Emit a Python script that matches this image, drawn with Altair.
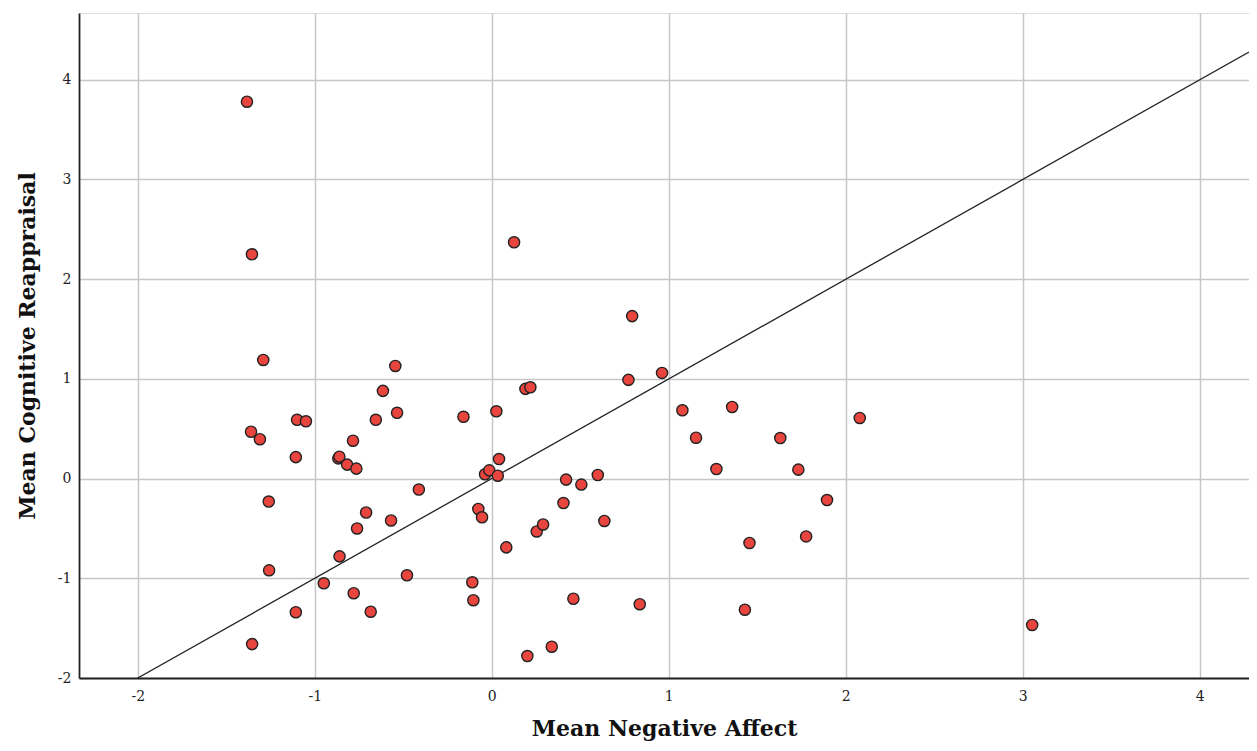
import altair as alt
import pandas as pd

neg_affect = [
    -1.383, -1.355, -1.291, -1.36, -1.31, -1.10, -1.05, -1.107, -1.26, -1.258,
    -1.107, -1.354, -0.867, -0.861, -0.817, -0.765, -0.784, -0.655, -0.615, -0.545,
    -0.535, -0.71, -0.761, -0.569, -0.86, -0.949, -0.78, -0.684, -0.412, -0.479,
    -0.16, 0.026, 0.041, -0.038, -0.014, 0.034, -0.076, -0.055, 0.082, -0.11,
    -0.104, 0.126, 0.793, 0.772, 0.962, 0.19, 0.218, 0.254, 0.29, 0.405,
    0.42, 0.506, 0.599, 0.636, 0.461, 0.836, 0.339, 0.201, 1.077, 1.358,
    1.154, 1.63, 1.269, 1.732, 2.079, 1.894, 1.776, 1.456, 1.43, 3.053,
]
cog_reapp = [
    3.78, 2.25, 1.19, 0.47, 0.395, 0.59, 0.575, 0.215, -0.23, -0.92,
    -1.34, -1.66, 0.203, 0.22, 0.14, 0.10, 0.38, 0.59, 0.88, 1.13,
    0.66, -0.34, -0.50, -0.42, -0.78, -1.05, -1.15, -1.335, -0.11, -0.97,
    0.62, 0.675, 0.196, 0.043, 0.083, 0.029, -0.305, -0.388, -0.69, -1.04,
    -1.22, 2.37, 1.63, 0.99, 1.06, 0.90, 0.916, -0.53, -0.46, -0.245,
    -0.01, -0.06, 0.036, -0.425, -1.205, -1.26, -1.686, -1.78, 0.685, 0.718,
    0.41, 0.407, 0.096, 0.09, 0.608, -0.215, -0.58, -0.646, -1.315, -1.468,
]
tick_vals = [-2, -1, 0, 1, 2, 3, 4]
x_domain = [-2.332, 4.278]
y_domain = [-2.0, 4.67]
ref_line = [-2.0, 4.278]

pts = pd.DataFrame({"x": neg_affect, "y": cog_reapp})
line_df = pd.DataFrame({"x": ref_line, "y": ref_line})

FONT = "DejaVu Serif"

xscale = alt.Scale(domain=x_domain, nice=False, zero=False)
yscale = alt.Scale(domain=y_domain, nice=False, zero=False)

xaxis = alt.Axis(
    title="Mean Negative Affect", values=tick_vals, labelExpr="'' + datum.value",
    grid=True, gridColor="#c6c6c6", gridWidth=1.5,
    ticks=False, domain=True, domainColor="#222", domainWidth=1.8,
    labelFont=FONT, labelFontSize=14, labelColor="#222", labelPadding=11,
    titleFont=FONT, titleFontSize=22, titleFontWeight="bold", titleColor="#111",
    titlePadding=15,
)
yaxis = alt.Axis(
    title="Mean Cognitive Reappraisal", values=tick_vals, labelExpr="'' + datum.value",
    grid=True, gridColor="#c6c6c6", gridWidth=1.5,
    ticks=False, domain=True, domainColor="#222", domainWidth=1.8,
    labelFont=FONT, labelFontSize=14, labelColor="#222", labelPadding=8,
    titleFont=FONT, titleFontSize=22, titleFontWeight="bold", titleColor="#111",
    titlePadding=18,
)

line = alt.Chart(line_df).mark_line(color="#222", strokeWidth=1.3, clip=True).encode(
    x=alt.X("x:Q", scale=xscale, axis=xaxis),
    y=alt.Y("y:Q", scale=yscale, axis=yaxis),
)

points = alt.Chart(pts).mark_point(
    shape="circle", filled=True, fill="#e8453f", stroke="#222",
    strokeWidth=1.4, size=125, opacity=1, clip=True,
).encode(
    x=alt.X("x:Q", scale=xscale),
    y=alt.Y("y:Q", scale=yscale),
)

chart = alt.layer(line, points).properties(
    width=1170, height=665,
    autosize=alt.AutoSizeParams(type="none"),
    padding={"left": 71, "top": 5, "right": 0, "bottom": 65},
).configure_view(stroke=None).configure(background="white")

chart.save("out.html", embed_options={"renderer": "svg", "actions": False})
